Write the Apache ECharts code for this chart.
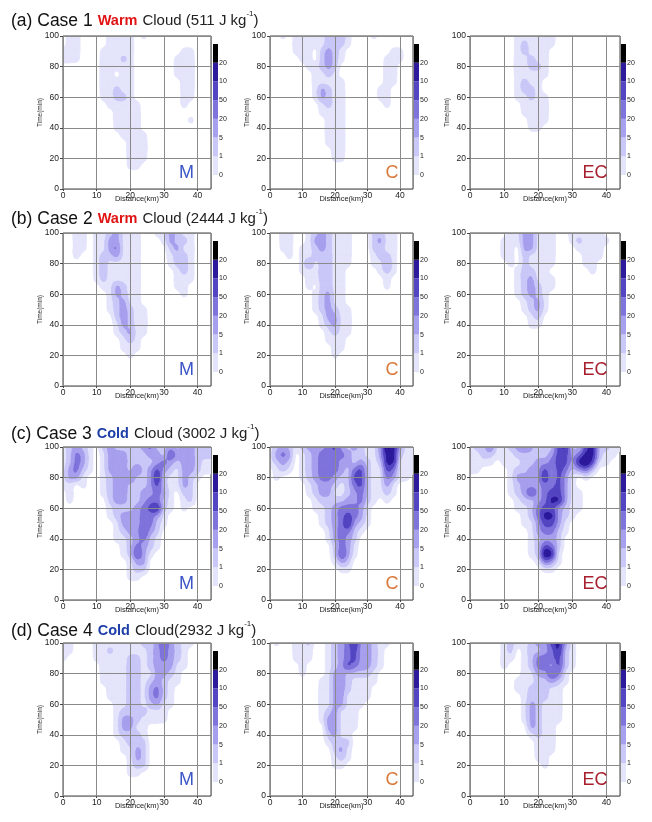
<!DOCTYPE html>
<html><head><meta charset="utf-8"><style>html,body{margin:0;padding:0;background:#fff}#c{width:652px;height:822px}</style>
<script src="https://cdn.jsdelivr.net/npm/echarts@6/dist/echarts.min.js"></script></head><body><div id="c"></div>
<script>
// Shading-class digits (0 = blank, 1..7 = colour-bar bands).
// Columns: distance 0,2,4..44 km (grouped in fives). Rows: time 100,95,90.. min; absent rows are blank.
const a_M=["01100 00111 10100 00000 000","01100 00111 10000 00000 000","11100 01111 10000 00011 000","11100 01112 10000 00111 000","00000 01111 10000 00111 000","00000 01101 10000 00111 000","00000 01111 10000 00011 000","00000 01121 10000 00011 000","00000 01122 10000 00011 000","00000 00111 11000 00010 000","00000 00011 11000 00000 000","00000 00011 11000 00001 000","00000 00011 11000 00000 000","00000 00001 11100 00000 000","00000 00000 11100","00000 00000 11100","00000 00000 11100","00000 00000 11000"];
const a_C=["00101 11112 22100 01000 000","00001 11112 22100 00000 000","00001 11023 21000 00001 100","00000 11023 21000 00011 100","00000 01123 20000 00011 000","00000 00112 10000 00011 000","00000 00111 11000 00011 000","00000 00132 11000 00110 000","00000 00132 11000 00110 000","00000 00012 11000 00010 000","00000 00011 11000","00000 00001 11000","00000 00001 11000","00000 00001 11000","00000 00001 11000","00000 00000 11000","00000 00000 11000"];
const a_EC=["00000 00111 11100","00000 00121 11100","00000 00121 11000","00000 00112 11000","00000 00112 21000","00000 00111 11000","00000 00121 10000","00000 00122 10000","00000 00112 11000","00000 00011 11000","00000 00011 11000","00000 00001 11000","00000 00001 10000"];
const b_M=["00110 11231 11001 13211 000","00110 11331 11000 13221 000","00110 11341 11000 02311 000","00100 12231 11000 01221 000","00000 12111 11000 01221 000","00000 12111 11000 00121 000","00000 12111 11000 00111 000","00000 01132 11000 00110 000","00000 00132 11000 00010 000","00000 00123 11000","00000 00123 21100","00000 00023 21100","00000 00013 21100","00000 00012 31100","00000 00001 21000","00000 00001 11000","00000 00000 10000"];
const b_C=["00110 01232 11100 02211 000","00110 01332 11100 02311 000","00110 11232 11100 02211 000","00010 11222 11100 01221 000","00000 13122 11100 01131 000","00000 11122 11000 00121 000","00000 01122 11000 00010 000","00000 01022 11000 00010 000","00000 00123 11000","00000 00123 11000","00000 00123 21100","00000 00013 31100","00000 00012 31100","00000 00001 21100","00000 00001 11000","00000 00000 11000","00000 00000 10000"];
const b_EC=["00000 01133 11100 11111 000","00000 11133 11100 12111 100","00000 11033 11100 01111 000","00000 11021 11100 00111 000","00000 01021 11100 00110 000","00000 00122 11000 00010 000","00000 00123 11100","00000 00123 21100","00000 00123 21000","00000 00012 31000","00000 00012 31000","00000 00001 20000","00000 00001 10000"];
const c_M=["12321 02322 22342 23233 222","12431 01333 22233 25333 222","12431 01333 22223 43233 211","13421 01333 24235 32133 211","13310 01233 42236 21132 100","11010 01233 22235 21132 000","01000 01233 22334 31022 000","01000 00233 22344 21012 000","00000 00122 23456 21010 000","00000 00123 33443 10000 000","00000 00013 33442 10000 000","00000 00012 33532 00000 000","00000 00011 23421 00000 000","00000 00001 24321 00000 000","00000 00001 25310","00000 00000 13300","00000 00000 12200","00000 00000 11000"];
const c_C=["12321 23334 53232 11376 311","13430 12344 44322 11366 211","12320 12344 43323 21266 111","01210 12344 43245 21154 111","01000 12344 32255 21143 110","00000 01233 21245 21131 000","00000 01233 11234 21121 000","00000 00122 22334 21010 000","00000 00112 34443 10000 000","00000 00012 34543 10000 000","00000 00012 34632 10000 000","00000 00001 34421 00000 000","00000 00001 34320","00000 00000 24310","00000 00000 25310","00000 00000 13200","00000 00000 01100"];
const c_EC=["12241 12343 12256 22562 211","11221 11222 22355 34662 110","11110 11122 33455 36751 100","11000 01223 35354 23420 000","00000 01333 36353 10100 000","00000 01233 34453 10000 000","00000 01235 34553 11000 000","00000 00122 34663 11000 000","00000 00112 45532 11000 000","00000 00012 46632 10000 000","00000 00011 35531 00000 000","00000 00001 34421 00000 000","00000 00001 23320","00000 00001 25420","00000 00001 27610","00000 00000 14310","00000 00000 01100"];
const d_M=["11000 11111 11223 53211 000","11000 11211 11123 43210 000","10000 11111 22123 43210 000","00000 01111 22123 33110 000","00000 01111 22113 32100 000","00000 01111 22123 21100 000","00000 00111 22134 21000 000","00000 00111 22134 21000 000","00000 00011 22123 11000 000","00000 00012 22211 10000 000","00000 00013 32111 10000 000","00000 00013 31100 00000 000","00000 00012 22100","00000 00001 22200","00000 00001 13200","00000 00000 13200","00000 00000 12200","00000 00000 11000"];
const d_C=["01001 12001 23463 32110 000","00001 11001 23453 32100 000","00001 11001 23453 32100 000","00000 10001 23543 32100 000","00000 10001 33222 21000 000","00000 00011 33211 11000 000","00000 00011 33211 10000 000","00000 00011 33111 10000 000","00000 00011 33111 00000 000","00000 00012 31110","00000 00013 31110","00000 00003 31110","00000 00002 31100","00000 00001 22200","00000 00000 23100","00000 00000 12100","00000 00000 11000"];
const d_EC=["00000 12112 33563 10000 000","00000 12012 23462 10000 000","00000 11012 44452 10000 000","00000 10012 44352 10000 000","00000 00011 33541 00000 000","00000 00111 22321 00000 000","00000 00112 22110","00000 00012 22110","00000 00013 21110","00000 00013 21110","00000 00013 21110","00000 00003 21100","00000 00001 21100","00000 00000 11100","00000 00000 11100","00000 00000 11000","00000 00000 01000"];

const xTickLabels=[0,10,20,30,40];
const yTickLabels=[0,20,40,60,80,100];
const barLabels=['0','1','5','20','50','10','20'];
const bandColors=['#e4e4fb','#c9c8f8','#a7a0ee','#7f74dc','#5446c2','#2d1b9c','#000000'];
const rowTitles=[
 ['(a) Case 1','Warm','Cloud (511 J kg','-1',')'],
 ['(b) Case 2','Warm','Cloud (2444 J kg','-1',')'],
 ['(c) Case 3','Cold','Cloud (3002 J kg','-1',')'],
 ['(d) Case 4','Cold','Cloud(2932 J kg','-1',')']];
const modelNames=['M','C','EC'];
const modelColors=['#3c55c6','#d9793a','#a81f2e'];
const panels=[[a_M,a_C,a_EC],[b_M,b_C,b_EC],[c_M,c_C,c_EC],[d_M,d_C,d_EC]];

const rowTop=[36,233,447,643], plotH=153, titleMid=[20,218,433,630];
const colLeft=[63,270,470], plotW=[148,143,150];
const barLeft=[213,414,621], barW=5, barTop=8, barH=131;
const tagMid=[186.5,392,595];
const tempColor={Warm:'#e01414',Cold:'#1f3fa8'};
const SUB=4, SOFT=0.6;

function field(rows){
  const g=rows.map(r=>r.replace(/ /g,''));
  return (j,i)=>{const r=g[Math.max(0,j)];if(!r)return 0;const c=r.charAt(Math.min(22,Math.max(0,i)));return c?+c:0;};
}
function cr(a,b,c,d,t){
  const v=b+0.5*t*(c-a+t*(2*a-5*b+4*c-d+t*(3*(b-c)+d-a)));
  return Math.min(Math.max(b,c),Math.max(Math.min(b,c),v));
}
function bs(a,b,c,d,t){
  const s=1-t;
  return (a*s*s*s+b*(3*t*t*t-6*t*t+4)+c*(-3*t*t*t+3*t*t+3*t+1)+d*t*t*t)/6;
}
function surface(val,j,i,u,v){ // contour surface drawn from the read classes
  const p=[],q=[];
  for(let m=-1;m<=2;m++){
    const a=val(j+m,i-1),b=val(j+m,i),c=val(j+m,i+1),d=val(j+m,i+2);
    p.push(cr(a,b,c,d,u));q.push(bs(a,b,c,d,u));
  }
  return (1-SOFT)*cr(p[0],p[1],p[2],p[3],v)+SOFT*bs(q[0],q[1],q[2],q[3],v);
}
function clip(corners,vals,T){
  const out=[];
  for(let k=0;k<4;k++){
    const n=(k+1)%4,va=vals[k],vb=vals[n],p=corners[k],q=corners[n];
    if(va>=T)out.push(p);
    if((va>=T)!==(vb>=T)){const f=(T-va)/(vb-va);out.push([p[0]+(q[0]-p[0])*f,p[1]+(q[1]-p[1])*f]);}
  }
  return out;
}
function levelSeries(rows,L,gi){
  const val=field(rows),data=[],T=L-0.5;
  for(let j=0;j<20;j++)for(let i=0;i<22;i++){
    let mx=0;
    for(let m=-1;m<=2;m++)for(let n=-1;n<=2;n++)mx=Math.max(mx,val(j+m,i+n));
    if(mx>=T)data.push([i*2,100-j*5,j,i]);
  }
  const col=bandColors[L-1];
  return {type:'custom',coordinateSystem:'cartesian2d',xAxisIndex:gi,yAxisIndex:gi,clip:true,z:2,silent:true,
    encode:{x:0,y:1},data,
    renderItem(params,api){
      const j=api.value(2),i=api.value(3),x0=api.value(0),t0=api.value(1),children=[];
      for(let a=0;a<SUB;a++)for(let b=0;b<SUB;b++){
        const u0=b/SUB,u1=(b+1)/SUB,v0=a/SUB,v1=(a+1)/SUB;
        const vals=[surface(val,j,i,u0,v0),surface(val,j,i,u1,v0),surface(val,j,i,u1,v1),surface(val,j,i,u0,v1)];
        if(Math.max.apply(null,vals)<T)continue;
        const corners=[[x0+2*u0,t0-5*v0],[x0+2*u1,t0-5*v0],[x0+2*u1,t0-5*v1],[x0+2*u0,t0-5*v1]];
        const poly=clip(corners,vals,T);
        if(poly.length<3)continue;
        children.push({type:'polygon',silent:true,shape:{points:poly.map(p=>api.coord(p))},style:{fill:col,stroke:col,lineWidth:0.6}});
      }
      return {type:'group',children};
    }};
}

const opt={animation:false,backgroundColor:'#fff',title:[],grid:[],xAxis:[],yAxis:[],series:[]};
const font='"Liberation Sans",Arial,sans-serif';
rowTitles.forEach((t,r)=>{
  opt.title.push({left:11,top:titleMid[r]-10,padding:0,text:`{a|${t[0]}} {w|${t[1]}} {c|${t[2]}}{s|${t[3]}}{c|${t[4]}}`,
    textStyle:{fontWeight:'normal',rich:{
      a:{fontSize:17.5,fontWeight:'normal',fontFamily:font,color:'#111'},
      w:{fontSize:14.5,fontWeight:'bold',fontFamily:font,color:tempColor[t[1]]},
      c:{fontSize:15,fontWeight:'normal',fontFamily:font,color:'#222'},
      s:{fontSize:8,fontWeight:'normal',fontFamily:font,color:'#222',verticalAlign:'top',lineHeight:22}}}});
  modelNames.forEach((m,c)=>{
    const gi=opt.grid.length;
    opt.grid.push({left:colLeft[c],top:rowTop[r],width:plotW[c],height:plotH,show:true,borderColor:'#444',borderWidth:1,backgroundColor:'#fff'});
    opt.xAxis.push({gridIndex:gi,type:'value',min:0,max:44,interval:10,z:5,
      name:'Distance(km)',nameLocation:'middle',nameGap:6,nameMoveOverlap:false,nameTextStyle:{fontSize:7.5,fontFamily:font,color:'#222'},
      axisLine:{show:false},axisTick:{length:2,lineStyle:{color:'#444'}},
      axisLabel:{showMaxLabel:false,margin:2,fontSize:8.5,fontFamily:font,color:'#222',formatter:v=>xTickLabels.includes(v)?String(v):''},
      splitLine:{show:true,lineStyle:{color:'#8a8a8a',width:1}}});
    opt.yAxis.push({gridIndex:gi,type:'value',min:0,max:100,interval:20,z:5,
      name:'Time(min)',nameLocation:'middle',nameGap:19,nameMoveOverlap:false,nameTextStyle:{fontSize:6.5,fontFamily:font,color:'#222'},
      axisLine:{show:false},axisTick:{length:3,lineStyle:{color:'#444'}},
      axisLabel:{margin:4,fontSize:8.5,fontFamily:font,color:'#222',formatter:v=>yTickLabels.includes(v)?String(v):''},
      splitLine:{show:true,lineStyle:{color:'#8a8a8a',width:1}}});
    bandColors.forEach((_,k)=>opt.series.push(levelSeries(panels[r][c],k+1,gi)));
    // colour bar
    const bi=opt.grid.length;
    opt.grid.push({left:barLeft[c],top:rowTop[r]+barTop,width:barW,height:barH});
    opt.xAxis.push({gridIndex:bi,type:'category',data:['bar'],show:false});
    opt.yAxis.push({gridIndex:bi,type:'value',position:'right',min:0,max:7,interval:1,
      axisLine:{show:false},axisTick:{show:false},splitLine:{show:false},
      axisLabel:{margin:1,fontSize:7,fontFamily:font,color:'#222',showMaxLabel:false,formatter:v=>barLabels[v]||''}});
    bandColors.forEach((col,k)=>opt.series.push({type:'bar',xAxisIndex:bi,yAxisIndex:bi,stack:'b'+bi,barWidth:'100%',silent:true,itemStyle:{color:col},data:[1]}));
    // model tag
    opt.title.push({left:tagMid[c],top:rowTop[r]+128,padding:0,textAlign:'center',text:m,textStyle:{fontSize:18,fontWeight:'normal',fontFamily:font,color:modelColors[c]}});
  });
});
echarts.init(document.getElementById('c'),null,{renderer:'canvas'}).setOption(opt);
</script></body></html>
